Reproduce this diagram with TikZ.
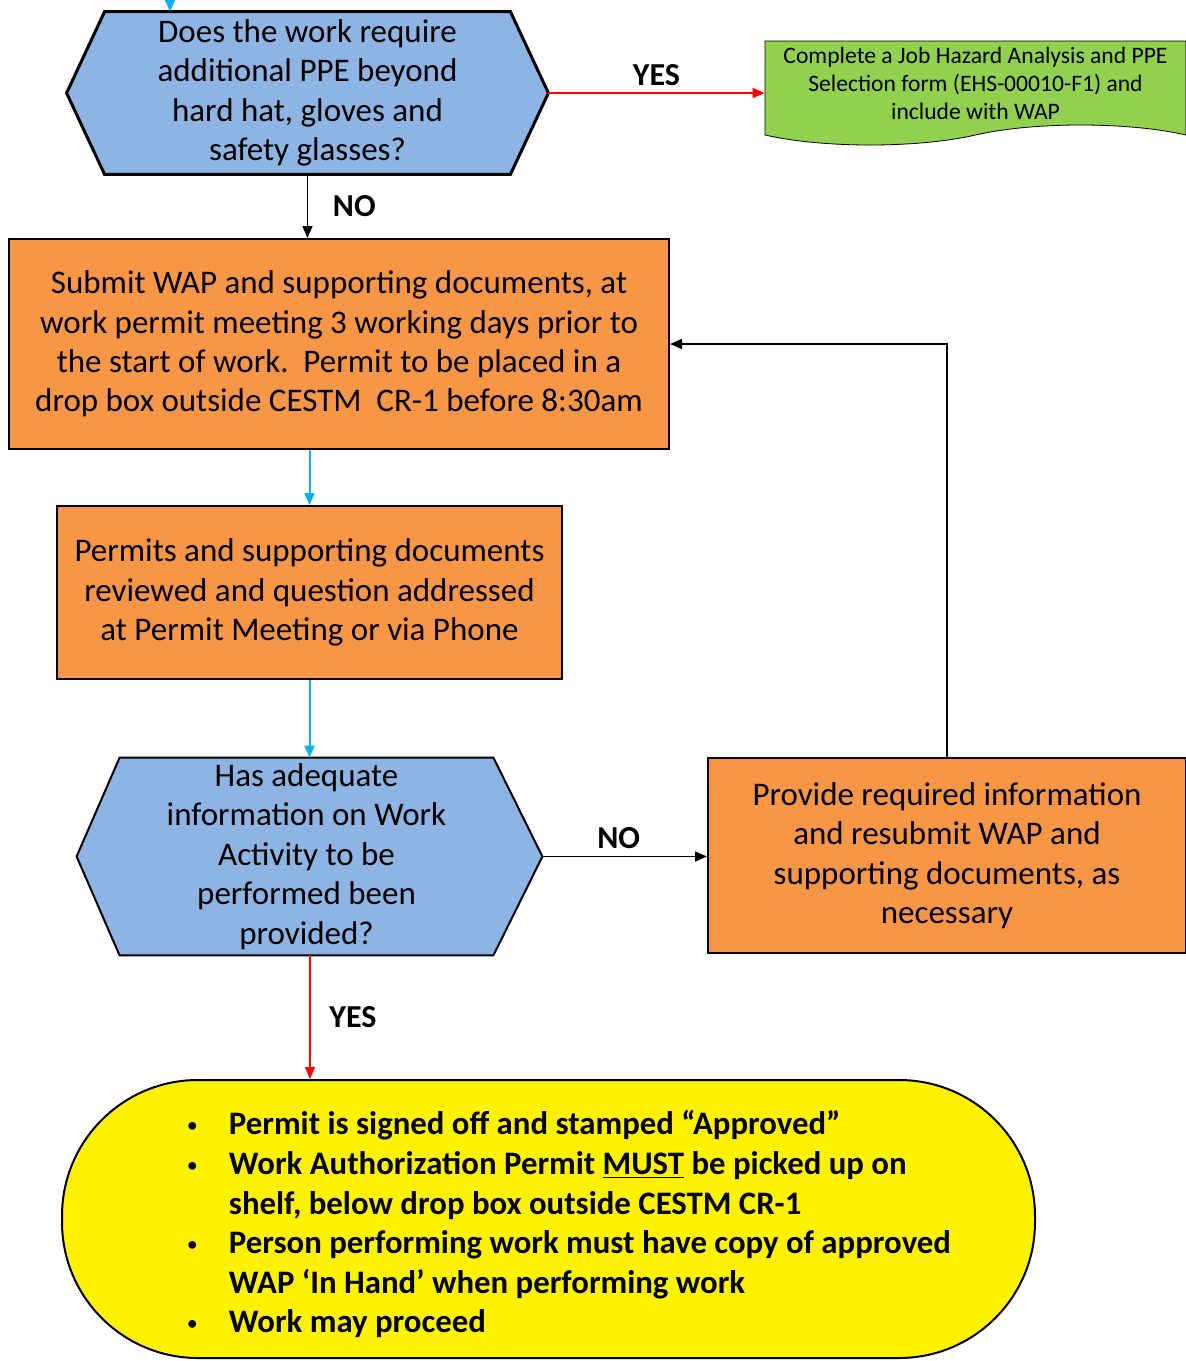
\documentclass[tikz,border=0pt]{standalone}
\usepackage{fontspec}
\setmainfont{Carlito}
\usetikzlibrary{shapes.symbols,arrows.meta}
\pgfdeclarelayer{bg}
\pgfsetlayers{bg,main}
\definecolor{decblue}{RGB}{141,180,226}
\definecolor{steporange}{RGB}{247,150,70}
\definecolor{formgreen}{RGB}{146,208,80}
\definecolor{flowcyan}{RGB}{0,176,240}
\tikzset{
    DEC/.style ={rectangle, align=center, inner sep=0pt, font=\fontsize{16.5}{19.7}\selectfont},
    HEX/.style ={draw, fill=decblue, line join=miter},
    STP/.style ={rectangle, draw, fill=steporange, line width=1pt, align=center, inner sep=0pt, font=\fontsize{16.5}{19.7}\selectfont},
    FRM/.style ={tape, draw, fill=formgreen, tape bend top=none, tape bend bottom=in and out, tape bend height=10pt, align=center, inner sep=0pt, font=\fontsize{11.8}{14}\selectfont},
    FIN/.style ={rectangle, rounded corners=68pt, draw, fill=yellow, line width=1pt, inner sep=0pt, font=\bfseries\fontsize{16.4}{19.8}\selectfont},
    LB/.style ={text=black, font=\bfseries\fontsize{16}{19}\selectfont},
    AB/.style ={-{Triangle[length=6pt,width=5pt]}, line width=1pt, flowcyan},
    AK/.style ={-{Triangle[length=6pt,width=5pt]}, line width=0.8pt, black},
    AR/.style ={-{Triangle[length=6pt,width=5pt]}, line width=0.8pt, red}}
\newcommand{\blt}{\makebox[21pt][l]{\raisebox{1.2pt}{\mdseries\fontsize{11}{11}\selectfont\textbullet}}}
\begin{document}
\begin{tikzpicture}[x=0.5pt,y=-0.5pt]
        \useasboundingbox (0,0) rectangle (1186,1361);
        \coordinate (in) at (170,0);
        \node[DEC, minimum width=202.5pt, minimum height=81pt] (ppe) at (307.5,93)
              {Does the work require\\additional PPE beyond\\hard hat, gloves and\\safety glasses?};
        \coordinate (ppe-r) at ([xshift=19pt]ppe.east);
        \coordinate (ppe-l) at ([xshift=-19pt]ppe.west);
        \node[FRM, minimum width=210.5pt, minimum height=52pt] (jha) at (975.5,83)
              {Complete a Job Hazard Analysis and PPE\\Selection form (EHS-00010-F1) and\\include with WAP};
        \node[STP, minimum width=330pt, minimum height=105pt] (submit) at (339,344)
              {Submit WAP and supporting documents, at\\work permit meeting 3 working days prior to\\the start of work.\ \ Permit to be placed in a\\drop box outside CESTM\ \ CR-1 before 8:30am};
        \node[STP, minimum width=252.5pt, minimum height=86.5pt] (review) at (309.5,592.5)
              {Permits and supporting documents\\reviewed and question addressed\\at Permit Meeting or via Phone};
        \node[DEC, minimum width=186.5pt, minimum height=98.5pt] (info) at (306.5,856.5)
              {Has adequate\\information on Work\\Activity to be\\performed been\\provided?};
        \coordinate (info-r) at ([xshift=24.5pt]info.east);
        \coordinate (info-l) at ([xshift=-21.5pt]info.west);
        \node[STP, minimum width=239pt, minimum height=97.5pt] (provide) at (947,855.5)
              {Provide required information\\and resubmit WAP and\\supporting documents, as\\necessary};
        \node[FIN, minimum width=486.5pt, minimum height=139pt] (approve) at (548.5,1219)
              {\hspace{20.5pt}\begin{tabular}{@{}l@{}l@{}}
               \blt & \rule{0pt}{20.9pt}Permit is signed off and stamped “Approved”\\
               \blt & Work Authorization Permit \underline{MUST} be picked up on\\
               & shelf, below drop box outside CESTM CR-1\\
               \blt & Person performing work must have copy of approved\\
               & WAP ‘In Hand’ when performing work\\
               \blt & Work may proceed
               \end{tabular}};
        \begin{pgfonlayer}{bg}
            \draw[HEX, line width=1.5pt] (ppe.north west) -- (ppe.north east) -- (ppe-r)
                -- (ppe.south east) -- (ppe.south west) -- (ppe-l) -- cycle;
            \draw[HEX, line width=1pt] (info.north west) -- (info.north east) -- (info-r)
                -- (info.south east) -- (info.south west) -- (info-l) -- cycle;
        \end{pgfonlayer}
        \draw[AB] (in) -- (in |- ppe.north);
        \draw[AR] (ppe-r) -- (ppe-r -| jha.west) node[LB, midway, above] (yes1) {YES};
        \draw[AK] (ppe.south) -- (ppe.south |- submit.north) node[LB, midway, right, xshift=9pt] (no1) {NO};
        \draw[AB] (review.north |- submit.south) -- (review.north);
        \draw[AB] (review.south) -- (review.south |- info.north);
        \draw[AK] (info-r) -- (info-r -| provide.west) node[LB, midway, above, xshift=-3pt] (no2) {NO};
        \draw[AK] (provide.north) |- (submit.east);
        \draw[AR] ([xshift=1.75pt]info.south) -- ([xshift=1.75pt]info.south |- approve.north) node[LB, midway, right, xshift=6pt] (yes2) {YES};
    \end{tikzpicture}
\end{document}
